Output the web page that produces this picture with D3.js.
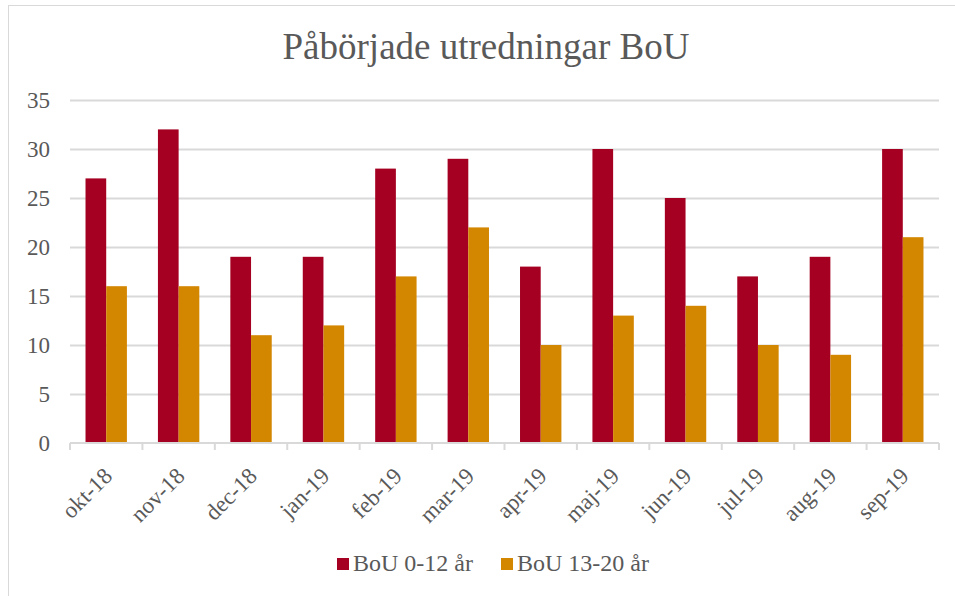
<!DOCTYPE html>
<html>
<head>
<meta charset="utf-8">
<script src="https://cdn.jsdelivr.net/npm/d3@7"></script>
<style>
  body { margin: 0; background: #fff; }
</style>
</head>
<body>
<div id="chart"></div>
<script>
// data
var months = ["okt-18", "nov-18", "dec-18", "jan-19", "feb-19", "mar-19",
              "apr-19", "maj-19", "jun-19", "jul-19", "aug-19", "sep-19"];
var young = [27, 32, 19, 19, 28, 29, 18, 30, 25, 17, 19, 30];
var older = [16, 16, 11, 12, 17, 22, 10, 13, 14, 10, 9, 21];
var seriesNames = ["BoU 0-12 år", "BoU 13-20 år"];
var seriesColors = ["#A50021", "#D38600"];
var yTicks = [0, 5, 10, 15, 20, 25, 30, 35];

var font = "'Liberation Serif', 'Times New Roman', 'DejaVu Serif', serif";
var textColor = "#595959";

var width = 955, height = 596;
var margin = {top: 100, right: 16, bottom: 153, left: 70};
var innerW = width - margin.left - margin.right,
    innerH = height - margin.top - margin.bottom;

var svg = d3.select("#chart").append("svg")
    .attr("width", width)
    .attr("height", height)
    .attr("font-family", font)
    .attr("fill", textColor);

// outer chart border
svg.append("rect")
    .attr("x", 8.5).attr("y", 5.5)
    .attr("width", width + 10).attr("height", height + 10)
    .attr("fill", "none")
    .attr("stroke", "#d9d9d9");

svg.append("text")
    .attr("x", 486).attr("y", 59)
    .attr("text-anchor", "middle")
    .attr("font-size", 37)
    .text("Påbörjade utredningar BoU");

var g = svg.append("g")
    .attr("transform", "translate(" + margin.left + "," + margin.top + ")");

var x = d3.scaleBand().domain(months).range([0, innerW]);
var y = d3.scaleLinear().domain([0, 35]).range([innerH, 0]);
// bar width = band / 3.5 (gap width 150%)
var barW = x.bandwidth() / 3.5;
var x1 = d3.scaleBand().domain([0, 1]).range([barW * 0.75, barW * 2.75]);

// gridlines
g.append("g")
    .selectAll("line")
    .data(yTicks.slice(1))
    .enter().append("line")
    .attr("x1", 0).attr("x2", innerW)
    .attr("y1", function (d) { return Math.round(y(d)) + 0.5; })
    .attr("y2", function (d) { return Math.round(y(d)) + 0.5; })
    .attr("stroke", "#d9d9d9")
    .attr("stroke-width", 2);

// y labels
g.append("g")
    .selectAll("text")
    .data(yTicks)
    .enter().append("text")
    .attr("x", -20)
    .attr("y", function (d) { return y(d); })
    .attr("dy", "0.35em")
    .attr("text-anchor", "end")
    .attr("font-size", 23)
    .text(function (d) { return d; });

// bars
var rows = months.map(function (m, i) { return {month: m, vals: [young[i], older[i]]}; });
var groups = g.append("g")
    .selectAll("g")
    .data(rows)
    .enter().append("g")
    .attr("transform", function (d) { return "translate(" + x(d.month) + ",0)"; });

groups.selectAll("rect")
    .data(function (d) { return d.vals; })
    .enter().append("rect")
    .attr("x", function (d, i) { return x1(i); })
    .attr("y", function (d) { return y(d); })
    .attr("width", x1.bandwidth())
    .attr("height", function (d) { return innerH - y(d); })
    .attr("fill", function (d, i) { return seriesColors[i]; });

// x axis line + ticks
var xAxis = g.append("g").attr("transform", "translate(0," + innerH + ")");
xAxis.append("line")
    .attr("x1", 0).attr("x2", innerW)
    .attr("stroke", "#d9d9d9").attr("stroke-width", 2);
xAxis.selectAll("line.tick")
    .data(d3.range(months.length + 1))
    .enter().append("line")
    .attr("class", "tick")
    .attr("x1", function (d) { return d * x.step(); })
    .attr("x2", function (d) { return d * x.step(); })
    .attr("y1", 0).attr("y2", 7)
    .attr("stroke", "#d9d9d9").attr("stroke-width", 2);

xAxis.selectAll("text")
    .data(months)
    .enter().append("text")
    .attr("transform", function (d) {
        return "translate(" + (x(d) + x.bandwidth() / 2 - 4) + ",23) rotate(-45)";
    })
    .attr("text-anchor", "end")
    .attr("dy", "0.7em")
    .attr("font-size", 23)
    .text(function (d) { return d; });

// legend
var legend = svg.append("g");
var legendX = [337, 501];
seriesNames.forEach(function (name, i) {
    legend.append("rect")
        .attr("x", legendX[i]).attr("y", 558)
        .attr("width", 12).attr("height", 12)
        .attr("fill", seriesColors[i]);
    legend.append("text")
        .attr("x", legendX[i] + 16).attr("y", 571)
        .attr("font-size", 24)
        .text(name);
});
</script>
</body>
</html>
